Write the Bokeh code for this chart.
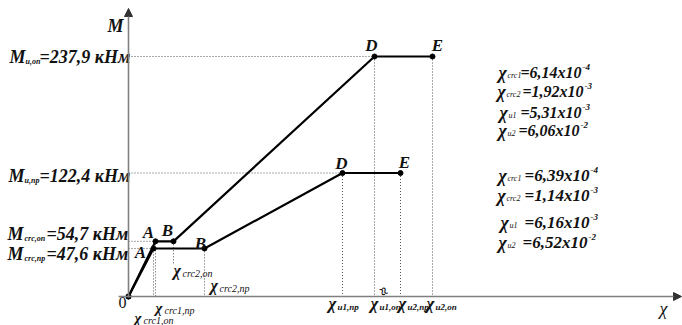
from bokeh.plotting import figure
from bokeh.models import Range1d, Arrow, NormalHead
from bokeh.core.properties import value
from bokeh.embed import file_html
from bokeh.resources import INLINE

# ---------------- data (schematic chi positions, not to scale) ----------------
point_names = ["0", "A", "B", "D", "E"]
chi_pos_op = [0, 27, 45, 246, 304]          # support section ("оп")
M_op = [0, 54.7, 54.7, 237.9, 237.9]
chi_pos_pr = [0, 25, 76, 214, 272]          # span section ("пр")
M_pr = [0, 47.6, 47.6, 122.4, 122.4]

M_values = ["237,9", "122,4", "54,7", "47,6"]
M_subs = ["u,оп", "u,пр", "crc,оп", "crc,пр"]

chi_names = ["crc1", "crc2", "u1", "u2"]
chi_mant_op = ["6,14x10", "1,92x10", "5,31x10", "6,06x10"]
chi_exp_op = ["-4", "-3", "-3", "-2"]
chi_mant_pr = ["6,39x10", "1,14x10", "6,16x10", "6,52x10"]
chi_exp_pr = ["-4", "-3", "-3", "-2"]

axis_ticks = ["crc1,оп", "crc1,пр", "crc2,оп", "crc2,пр", "u1,пр", "u1,оп", "u2,пр", "u2,оп"]

# ---------------- layout helpers ----------------
K = 240 / 237.9          # px per kNm
W, H = 682, 325


def X(ix):
    return ix - 128


def Y(iy):
    return (296 - iy) / K


p = figure(width=W, height=H,
           x_range=Range1d(X(0), X(W)), y_range=Range1d(Y(H), Y(0)),
           x_axis_type=None, y_axis_type=None,
           toolbar_location=None, output_backend="svg", min_border=0)
p.outline_line_color = None
p.background_fill_color = "white"

FONT = value("Liberation Serif")
INK = "#111111"


def put(ix, iy, txt, size, style="bold italic", align="left", angle=0.0):
    p.text(x=[X(ix)], y=[Y(iy)], text=[txt], text_font=FONT,
           text_font_size=f"{size}px", text_font_style=style,
           text_align=align, text_baseline="middle", angle=angle,
           text_color=INK)


# ---------------- axes ----------------
axis_col = "#808080"
p.add_layout(Arrow(end=NormalHead(size=8, fill_color="#333333", line_color="#333333"),
                   x_start=X(118), y_start=0, x_end=X(681), y_end=0,
                   line_color=axis_col, line_width=1.6))
p.add_layout(Arrow(end=NormalHead(size=8, fill_color="#333333", line_color="#333333"),
                   x_start=0, y_start=Y(297), x_end=0, y_end=Y(8),
                   line_color=axis_col, line_width=1.6))

# ---------------- dotted guides ----------------
dot = dict(line_color="#555555", line_width=1, line_dash="1 2")
hy = [M_op[3], M_pr[3], M_op[1], M_pr[1]]
hx = [chi_pos_op[3], chi_pos_pr[3], chi_pos_op[1], chi_pos_pr[1]]
p.segment(x0=[0] * 4, y0=hy, x1=hx, y1=hy, **dot)

vx = [chi_pos_op[1], chi_pos_pr[1], chi_pos_pr[2], chi_pos_op[3], chi_pos_op[4],
      chi_pos_pr[3], chi_pos_pr[4]]
vy = [M_op[1], M_pr[1], M_pr[2], M_op[3], M_op[4], M_pr[3], M_pr[4]]
p.segment(x0=vx, y0=vy, x1=vx, y1=[0] * len(vx), **dot)
p.segment(x0=[chi_pos_op[2]], y0=[M_op[2]], x1=[chi_pos_op[2]], y1=[Y(264)], **dot)

# ---------------- curves ----------------
for xs, ys in ((chi_pos_op, M_op), (chi_pos_pr, M_pr)):
    p.line(xs, ys, line_color="black", line_width=2.2)
    p.scatter(xs, ys, size=5, fill_color="black", line_color="black")

# ---------------- moment labels on the left ----------------
M_rows = [  # (label y, x of M, x of subscript, x of rest)
    (56, 9, 25, 39),
    (175, 8, 24, 39),
    (233, 7, 24, 46),
    (253, 7, 24, 46),
]
for (iy, xm, xs, xr), val, sub in zip(M_rows, M_values, M_subs):
    put(xm, iy, "M", 18)
    put(xs, iy + 5, sub, 8)
    put(xr, iy, "=" + val + " кНм", 18)

# ---------------- axis names ----------------
put(115, 25, "M", 18, align="center")
put(663, 308, "χ", 18, style="italic", align="center")
put(122, 302, "0", 16, style="normal", align="center")

# ---------------- point letters ----------------
letters = [("A", 148, 232), ("B", 167, 230), ("A", 140, 252), ("B", 200, 243),
           ("D", 371, 45), ("E", 437, 45), ("D", 341, 163), ("E", 404, 162)]
for t, ix, iy in letters:
    put(ix, iy, t, 17, align="center")

# ---------------- chi labels along the x axis ----------------
tick_pos = [  # (x of chi, y, x of subscript, sub style, chi size)
    (134, 317, 143, "italic", 15),
    (155, 307, 164, "italic", 15),
    (173, 270, 182, "italic", 16),
    (210, 285, 219, "italic", 16),
    (328, 303, 337, "bold italic", 17),
    (370, 303, 379, "bold italic", 17),
    (398, 303, 407, "bold italic", 17),
    (426, 303, 435, "bold italic", 17),
]
for (xc, iy, xs, st, cs), sub in zip(tick_pos, axis_ticks):
    put(xc, iy, "χ", cs)
    put(xs, iy + 3, sub, 10 if st == "italic" else 9, style=st)

# axis break mark
put(383, 291, "≈", 15, style="bold", align="center", angle=-1.1)

# ---------------- chi values on the right ----------------
op_rows = [(72, 498, 507, 581), (91, 497, 506, 583),
           (112, 499, 508, 581), (130, 498, 507, 579)]
pr_rows = [(175, 498, 507, 589), (195, 497, 506, 589),
           (222, 500, 509, 589), (242, 498, 507, 587)]
for rows, mant, exps, size in ((op_rows, chi_mant_op, chi_exp_op, 16),
                               (pr_rows, chi_mant_pr, chi_exp_pr, 17)):
    for (iy, xc, xs, xe), name, m, e in zip(rows, chi_names, mant, exps):
        put(xc, iy, "χ", 18)
        put(xs, iy + 3, name, 8, style="italic")
        put(xe, iy, "=" + m, size, align="right")
        put(xe + 1, iy - 6, e, 9)

open("out.html", "w").write(file_html(p, INLINE))
